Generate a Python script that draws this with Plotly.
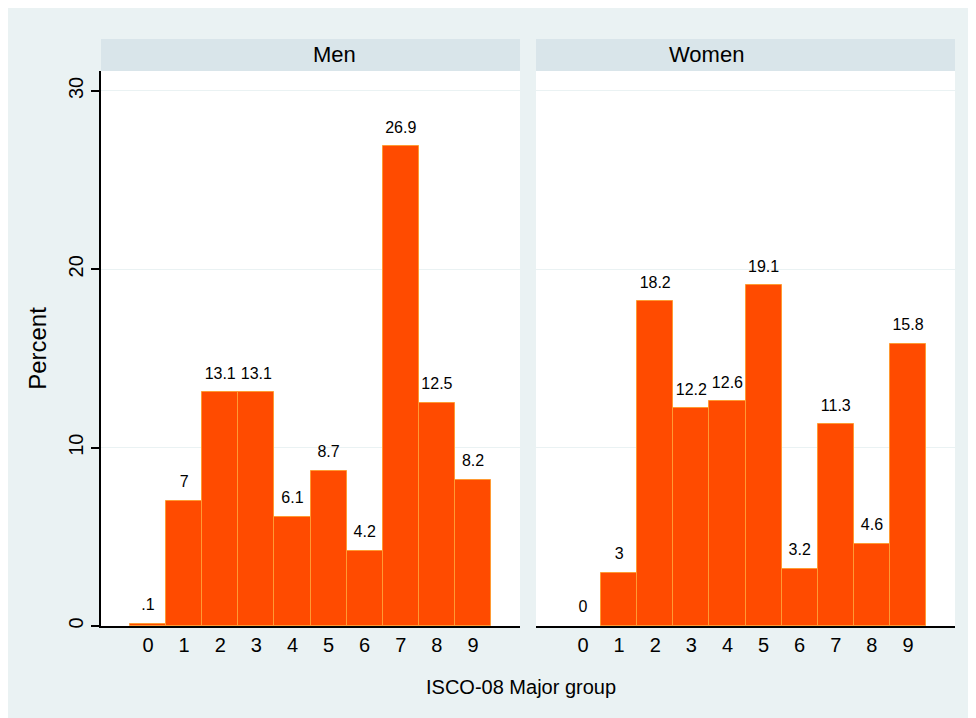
import plotly.graph_objs as go

groups = [0, 1, 2, 3, 4, 5, 6, 7, 8, 9]
men = [0.1, 7, 13.1, 13.1, 6.1, 8.7, 4.2, 26.9, 12.5, 8.2]
women = [0, 3, 18.2, 12.2, 12.6, 19.1, 3.2, 11.3, 4.6, 15.8]
panels = ["Men", "Women"]


def stata_label(v):
    # Stata style: no leading zero, no trailing .0
    s = f"{v:g}"
    if s.startswith("0."):
        s = s[1:]
    return s


bg = "#EAF2F3"
strip = "#D9E5EA"
bar_fill = "#FF4B00"
bar_line = "#FF9A33"

fig = go.Figure()

for i, vals in enumerate([men, women]):
    xa = "x" if i == 0 else "x2"
    ya = "y" if i == 0 else "y2"
    fig.add_trace(go.Bar(
        x=groups, y=vals,
        marker=dict(color=bar_fill,
                    line=dict(color=bar_line, width=[0 if v == 0 else 1 for v in vals])),
        xaxis=xa, yaxis=ya, showlegend=False, hoverinfo="skip",
    ))
    # value labels, pushed up a little with an invisible marker
    fig.add_trace(go.Scatter(
        x=groups, y=vals, mode="markers+text",
        text=[stata_label(v) for v in vals],
        textposition="top center",
        marker=dict(size=14, opacity=0),
        textfont=dict(size=16, color="black", family="Arial"),
        cliponaxis=False,
        xaxis=xa, yaxis=ya, showlegend=False,
    ))

W, H = 968, 710
L, R, T, B = 93, 21, 63, 92
pw = W - L - R
ph = H - T - B

d1 = (512 - L) / pw
d2 = (528 - L) / pw

xcommon = dict(range=[-1.3, 10.3], tickmode="array", tickvals=groups,
               showline=True, linecolor="black", linewidth=1.5,
               ticks="", showgrid=False, zeroline=False,
               tickfont=dict(size=20, color="black", family="Arial"))
ycommon = dict(range=[0, 31.12], tickvals=[0, 10, 20, 30],
               showgrid=True, gridcolor=bg, gridwidth=1, zeroline=False)

fig.update_layout(
    width=W, height=H,
    margin=dict(l=L, r=R, t=T, b=B),
    paper_bgcolor=bg, plot_bgcolor="white",
    bargap=0,
    font=dict(family="Arial", color="black"),
    xaxis=dict(domain=[0, d1], anchor="y", **xcommon),
    xaxis2=dict(domain=[d2, 1], anchor="y2", **xcommon),
    yaxis=dict(anchor="x", showline=True, linecolor="black", linewidth=1.5,
               ticks="outside", ticklen=8, tickcolor="black", tickwidth=1.5,
               tickangle=-90, tickfont=dict(size=20, color="black"),
               title=dict(text="Percent", font=dict(size=24, color="black"), standoff=12),
               **ycommon),
    yaxis2=dict(anchor="x2", showline=False, showticklabels=False, ticks="",
                **ycommon),
)

# panel header strips
top = 1 + 32 / ph
for (x0, x1), name in zip([(0, d1), (d2, 1)], panels):
    fig.add_shape(type="rect", xref="paper", yref="paper", x0=x0, x1=x1,
                  y0=1, y1=top, fillcolor=strip, line_width=0)
    fig.add_annotation(x=(x0 + x1) / 2, y=(1 + top) / 2, xref="paper", yref="paper",
                       yanchor="middle", text=name, showarrow=False,
                       font=dict(size=22, color="black"))

fig.add_annotation(x=(513 - L) / pw, y=-(679 - (T + ph)) / ph, xref="paper", yref="paper",
                   yanchor="middle", text="ISCO-08 Major group", showarrow=False,
                   font=dict(size=20, color="black"))

fig.write_html("out.html")
